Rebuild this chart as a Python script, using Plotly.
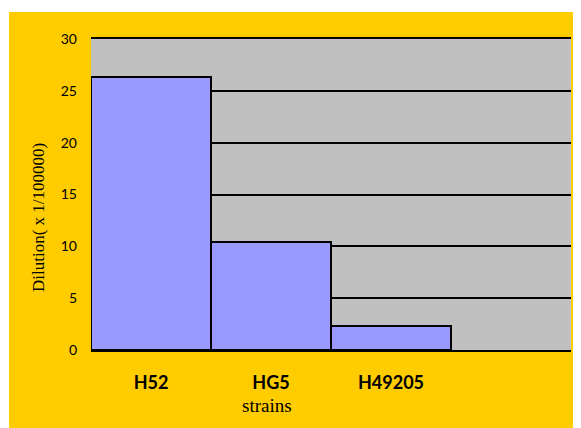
import plotly.graph_objects as go

categories = ["H52", "HG5", "H49205"]
slots = ["H52", "HG5", "H49205", " "]
values = [26.3, 10.4, 2.3]
y_ticks = [0, 5, 10, 15, 20, 25, 30]

OFF = 8  # page body margin
W, H = 573, 420
L, R, T, B = 83, 10, 31, 78
pw, ph = W - L - R, H - T - B

def px_x(x):
    return (x - OFF - L) / pw

def px_y(y):
    return (H - B - (y - OFF)) / ph

fig = go.Figure(go.Bar(
    x=categories, y=values,
    marker=dict(color="#9999FF", line=dict(color="black", width=2)),
))

fig.update_layout(
    width=W, height=H,
    margin=dict(l=L, r=R, t=T, b=B, pad=0),
    paper_bgcolor="#FFCC00",
    plot_bgcolor="#C0C0C0",
    bargap=0,
    showlegend=False,
    xaxis=dict(
        type="category", categoryorder="array", categoryarray=slots,
        range=[-0.5, 3.5], showgrid=False, zeroline=False,
        showline=True, linecolor="black", linewidth=2, mirror=True,
        ticks="", tickfont=dict(family="Lato", size=18, color="black", weight="bold"),
        ticklabelstandoff=15,
    ),
    yaxis=dict(
        range=[0, 30], tickvals=y_ticks, showgrid=True, gridcolor="black", gridwidth=2,
        zeroline=False, showline=False, ticks="",
        tickfont=dict(family="Lato", size=14, color="black"),
        ticklabelstandoff=13,
    ),
    annotations=[
        dict(text="Dilution( x 1/100000)", xref="paper", yref="paper",
             x=px_x(38), y=px_y(218), textangle=-90, showarrow=False,
             xanchor="center", yanchor="middle",
             font=dict(family="Liberation Serif", size=17, color="black")),
        dict(text="strains", xref="paper", yref="paper",
             x=px_x(267), y=px_y(405), showarrow=False,
             xanchor="center", yanchor="middle",
             font=dict(family="Liberation Serif", size=19, color="black")),
    ],
    shapes=[
        dict(type="rect", xref="paper", yref="paper", x0=-0.5, x1=px_x(9),
             y0=-0.5, y1=1.5, fillcolor="white", line=dict(width=0), layer="above"),
        dict(type="rect", xref="paper", yref="paper", x0=-0.5, x1=1.5,
             y0=px_y(12), y1=1.5, fillcolor="white", line=dict(width=0), layer="above"),
    ],
)

fig.write_html("out.html")
